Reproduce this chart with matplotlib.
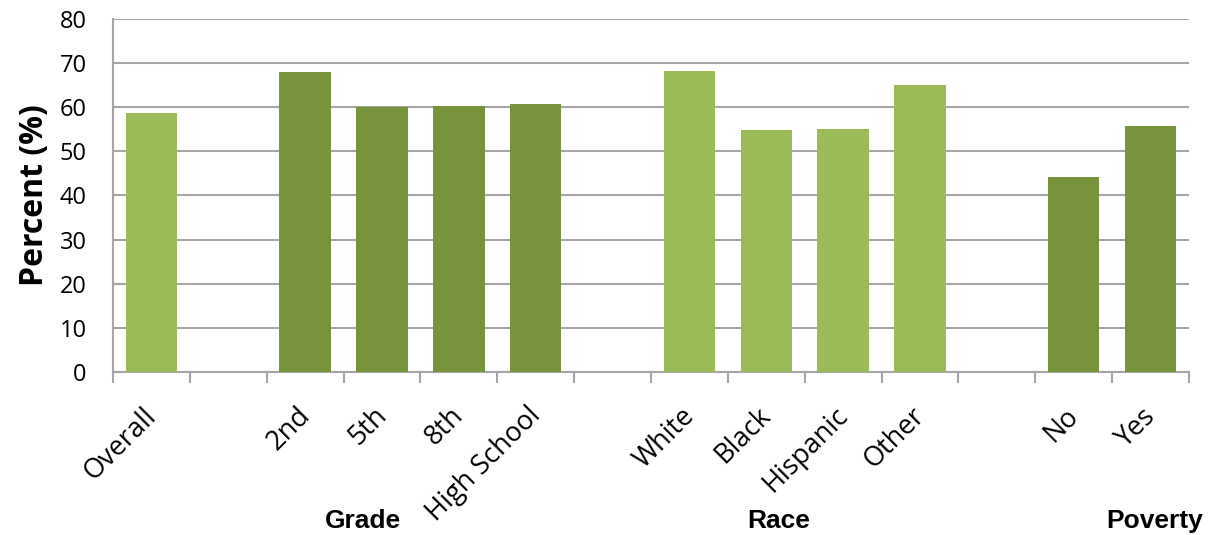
import numpy as np
import matplotlib.pyplot as plt
from matplotlib import transforms

# slots, '' = empty gap between groups
labels = ['Overall', '', '2nd', '5th', '8th', 'High School', '',
          'White', 'Black', 'Hispanic', 'Other', '', 'No', 'Yes']
values = [58.7, np.nan, 68.0, 60.1, 60.3, 60.8, np.nan,
          68.3, 54.9, 55.1, 65.1, np.nan, 44.2, 55.8]
shade = ['light', None, 'dark', 'dark', 'dark', 'dark', None,
         'light', 'light', 'light', 'light', None, 'dark', 'dark']
groups = ['Grade', 'Race', 'Poverty']
group_x = [363, 779, 1155]   # pixel centres of the group captions

colors = {'light': '#9BBB59', 'dark': '#77933C', None: 'none'}
grid_c = '#A6A6A6'

fig = plt.figure(figsize=(12.15, 5.35), dpi=100)
ax = fig.add_axes([113 / 1215, 1 - 372 / 535, (1189 - 113) / 1215, (372 - 19) / 535])

x = np.arange(len(labels))
vals = np.nan_to_num(values)
ax.bar(x, vals, width=0.67, color=[colors[s] for s in shade], zorder=3)

ax.set_xlim(-0.5, len(labels) - 0.5)
ax.set_ylim(0, 80)
ax.set_yticks(range(0, 81, 10))
ax.yaxis.grid(True, color=grid_c, lw=1.5, zorder=0)
ax.tick_params(axis='y', length=0, pad=19, labelsize=17, labelcolor='black')
for t in ax.get_yticklabels():
    t.set_family('Open Sans')

ax.set_xticks(np.arange(-0.5, len(labels), 1.0))
ax.set_xticklabels([])
ax.tick_params(axis='x', length=8, width=1.5, color=grid_c, direction='out')

for s in ['top', 'right']:
    ax.spines[s].set_visible(False)
for s in ['left', 'bottom']:
    ax.spines[s].set_color(grid_c)
    ax.spines[s].set_linewidth(1.5)

# rotated category labels
off = transforms.offset_copy(ax.get_xaxis_transform(), fig=fig, x=-9, y=-30, units='dots')
for xi, lab in zip(x, labels):
    if lab:
        ax.text(xi, 0, lab, transform=off, rotation=45, ha='right', va='top',
                rotation_mode='anchor', fontsize=19.5, family='Open Sans')

ax.set_ylabel('Percent (%)', fontsize=23, fontweight='bold', family='Open Sans', labelpad=6)

for g, gx in zip(groups, group_x):
    fig.text(gx / 1215, 1 - 528 / 535, g, ha='center', va='baseline',
             fontsize=19, fontweight='bold', family='Liberation Sans')

fig.savefig('out.png', dpi=100)
